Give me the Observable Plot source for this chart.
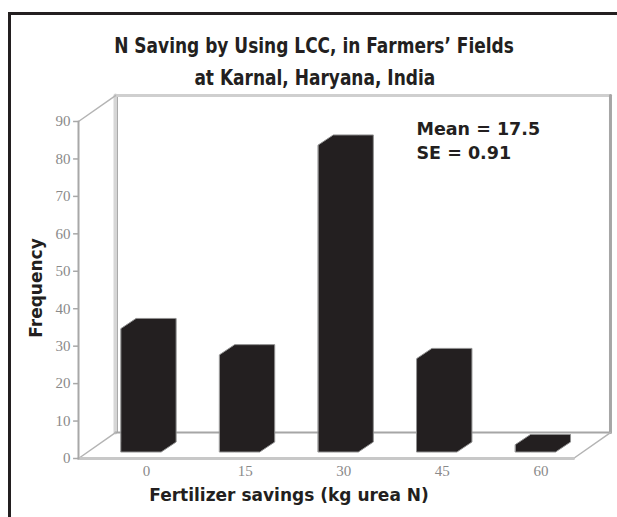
<!DOCTYPE html>
<html>
<head>
<meta charset="utf-8">
<script src="https://cdn.jsdelivr.net/npm/d3@7"></script>
<script src="https://cdn.jsdelivr.net/npm/@observablehq/plot@0.6"></script>
<style>
  html, body { margin: 0; padding: 0; background: #fff; }
  #wrap { position: relative; width: 617px; height: 517px; overflow: hidden; background: #fff; }
  #frame { position: absolute; left: 8px; top: 12px; width: 700px; height: 600px; border: 3px solid #231f20; box-sizing: border-box; }
  #chart { position: absolute; left: 0; top: 0; }
  #title { position: absolute; left: 6px; top: 30px; width: 617px; text-align: center;
    font-family: "DejaVu Sans Condensed", "Liberation Sans Narrow", "DejaVu Sans", sans-serif;
    font-weight: bold; font-size: 21px; line-height: 32px; color: #231f20; }
  #title span { display: inline-block; transform: scaleX(0.9); transform-origin: center; white-space: nowrap; }
</style>
</head>
<body>
<div id="wrap"><div id="frame"></div><div id="chart"></div><div id="title"></div></div>
<script>
// ---- data ----
const categories = ["0", "15", "30", "45", "60"];
const frequency = [33, 26, 82, 25, 2];
const yTicks = [0, 10, 20, 30, 40, 50, 60, 70, 80, 90];
const titleLines = ["N Saving by Using LCC, in Farmers’ Fields", "at Karnal, Haryana, India"];
const statLines = ["Mean = 17.5", "SE = 0.91"];
const xTitle = "Fertilizer savings (kg urea N)";
const yTitle = "Frequency";

// ---- 3D box geometry (data units: x = category index, y = frequency) ----
const XMIN = -0.64, XMAX = 4.38;     // front floor edge
const DX = 0.375, DY = 6.94;         // full depth offset of walls
const HALF = 0.203;                  // half width of bar front face
const BDX = 0.152, BDY = 2.67;       // bar depth offset
const BASE = 1.6;                    // bar front base (inside floor)

const barPoly = [];
frequency.forEach((v, i) => {
  barPoly.push({bar: i, x: i - HALF,        y1: BASE,       y2: BASE + v});
  barPoly.push({bar: i, x: i - HALF + BDX,  y1: BASE,       y2: BASE + v + BDY});
  barPoly.push({bar: i, x: i + HALF,        y1: BASE,       y2: BASE + v + BDY});
  barPoly.push({bar: i, x: i + HALF + BDX,  y1: BASE + BDY, y2: BASE + v + BDY});
});

const seg = (pts, id) => pts.map(([x, y]) => ({id, x, y}));
const backLeft  = seg([[XMIN + DX, DY], [XMIN + DX, 90 + DY]], "bl");
const backTop   = seg([[XMIN + DX, 90 + DY], [XMAX + DX, 90 + DY]], "bt");
const backRight = seg([[XMAX + DX, 90 + DY], [XMAX + DX, DY]], "br");
const floorBack = seg([[XMIN + DX, DY], [XMAX + DX, DY]], "fb");
const floorFront = seg([[XMIN, 0], [XMAX, 0]], "ff");
const frontAxis = seg([[XMIN, 0], [XMIN, 90]], "fa");
const diagonals = [
  ...seg([[XMIN, 90], [XMIN + DX, 90 + DY]], "d1"),
  ...seg([[XMIN, 0], [XMIN + DX, DY]], "d2"),
  ...seg([[XMAX, 0], [XMAX + DX, DY]], "d3")
];

const gothic = "DejaVu Sans, Verdana, sans-serif";
const serif = "Liberation Serif, DejaVu Serif, serif";

const chart = Plot.plot({
  width: 617,
  height: 517,
  margin: 0,
  style: {background: "transparent", overflow: "visible"},
  x: {type: "linear", domain: [XMIN, XMAX], range: [78, 573], axis: null},
  y: {type: "linear", domain: [0, 90], range: [458, 121], axis: null},
  marks: [
    // walls & floor
    Plot.line(backLeft, {x: "x", y: "y", z: "id", stroke: "#d6d6d6", strokeWidth: 4}),
    Plot.line(backLeft, {x: "x", y: "y", z: "id", stroke: "#a8a8a8", strokeWidth: 1, dx: 2}),
    Plot.line(backTop, {x: "x", y: "y", z: "id", stroke: "#cfcfcf", strokeWidth: 3}),
    Plot.line(backRight, {x: "x", y: "y", z: "id", stroke: "#a6a6a6", strokeWidth: 3}),
    Plot.line(floorBack, {x: "x", y: "y", z: "id", stroke: "#a6a6a6", strokeWidth: 2}),
    Plot.line(diagonals, {x: "x", y: "y", z: "id", stroke: "#b4b4b4", strokeWidth: 1.5}),
    Plot.line(floorFront, {x: "x", y: "y", z: "id", stroke: "#c8c8c8", strokeWidth: 3}),
    Plot.line(frontAxis, {x: "x", y: "y", z: "id", stroke: "#a8a8a8", strokeWidth: 2}),
    Plot.ruleY(yTicks, {y: d => d, x1: XMIN - 0.05, x2: XMIN, stroke: "#a8a8a8", strokeWidth: 1.5}),
    // bars
    Plot.areaY(barPoly, {x: "x", y1: "y1", y2: "y2", z: "bar", curve: "linear",
      fill: "#231f20", stroke: "#8f8f8f", strokeWidth: 1}),
    // tick labels
    Plot.text(yTicks, {x: XMIN, y: d => d, text: d => String(d), dx: -8, textAnchor: "end",
      fill: "#8a8a8a", fontFamily: serif, fontSize: 15}),
    Plot.text(categories, {x: (d, i) => i + 0.05, y: 0, text: d => d, dy: 13,
      fill: "#8a8a8a", fontFamily: serif, fontSize: 15}),
    // annotations
    Plot.text([statLines[0]], {frameAnchor: "top-left", dx: 416, dy: 122, text: d => d,
      fontFamily: gothic, fontWeight: "bold", fontSize: 17.5, fill: "#231f20", textAnchor: "start"}),
    Plot.text([statLines[1]], {frameAnchor: "top-left", dx: 416, dy: 146, text: d => d,
      fontFamily: gothic, fontWeight: "bold", fontSize: 17.5, fill: "#231f20", textAnchor: "start"}),
    // axis titles
    Plot.text([xTitle], {frameAnchor: "bottom", dx: -20, dy: -17, text: d => d,
      fontFamily: gothic, fontWeight: "bold", fontSize: 17, fill: "#231f20",
      textAnchor: "middle", letterSpacing: 0.6}),
    Plot.text([yTitle], {frameAnchor: "left", dx: 36, dy: 29, rotate: -90, text: d => d,
      textAnchor: "middle", lineAnchor: "middle",
      fontFamily: gothic, fontWeight: "bold", fontSize: 17, fill: "#231f20", letterSpacing: 1.3})
  ]
});
document.getElementById("chart").appendChild(chart);

const titleDiv = document.getElementById("title");
titleLines.forEach(t => {
  const line = document.createElement("div");
  const span = document.createElement("span");
  span.textContent = t;
  line.appendChild(span);
  titleDiv.appendChild(line);
});
</script>
</body>
</html>
